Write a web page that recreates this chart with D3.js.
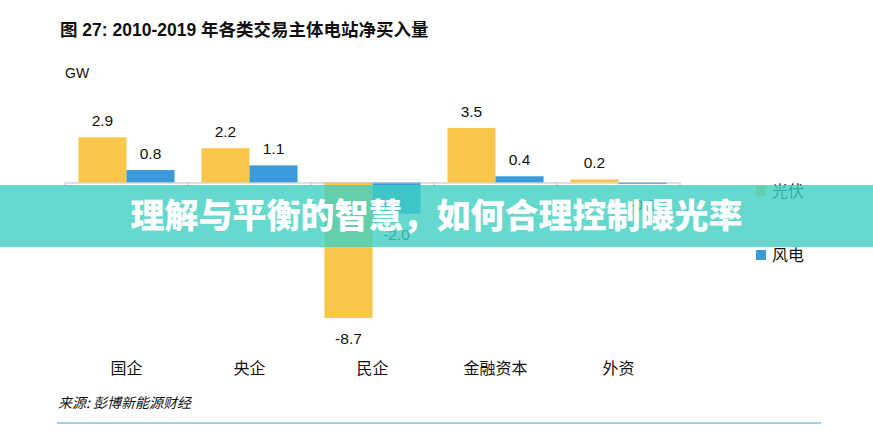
<!DOCTYPE html>
<html lang="zh">
<head>
<meta charset="UTF-8">
<title>各类交易主体电站净买入量</title>
<script src="https://d3js.org/d3.v7.min.js"></script>
<style>
    body { margin: 0; background: #fff; }
    text { font-family: "Liberation Sans", Arial, "Noto Sans CJK SC", sans-serif; }
    .cjk { font-family: "Noto Sans CJK SC", sans-serif; }
</style>
</head>
<body>
<svg id="chart" width="873" height="433"></svg>
<script>
    // data
    var categories = ["国企", "央企", "民企", "金融资本", "外资"];
    var seriesNames = ["光伏", "风电"];
    var solar = [2.9, 2.2, -8.7, 3.5, 0.2];
    var wind = [0.8, 1.1, -2.0, 0.4, -0.1];
    var colors = ["#f9c64a", "#3b9ad9"];

    var svg = d3.select("#chart");

    // title + unit
    svg.append("text")
        .attr("x", 60).attr("y", 36)
        .attr("font-size", 17.5).attr("font-weight", "bold")
        .attr("fill", "#111")
        .text("图 27: 2010-2019 年各类交易主体电站净买入量");

    svg.append("text")
        .attr("x", 65).attr("y", 78)
        .attr("font-size", 14).attr("fill", "#111")
        .text("GW");

    var x0 = d3.scaleBand()
        .domain(categories)
        .range([65, 680])
        .paddingInner(0)
        .paddingOuter(0);

    var x1 = d3.scaleBand()
        .domain(seriesNames)
        .range([0, x0.bandwidth()])
        .paddingInner(0)
        .paddingOuter(0.28);

    var allVals = solar.concat(wind);
    var y = d3.scaleLinear()
        .domain([d3.min(allVals), d3.max(allVals)])
        .range([318, 128]);

    var fmt = function (v) { return d3.format(".1f")(v).replace("\u2212", "-"); };

    var rows = categories.map(function (c, i) {
        return { cat: c, vals: [solar[i], wind[i]] };
    });

    var groups = svg.selectAll("g.cat")
        .data(rows)
        .enter().append("g")
        .attr("class", "cat")
        .attr("transform", function (d) { return "translate(" + x0(d.cat) + ",0)"; });

    var bars = groups.selectAll("g.bar")
        .data(function (d) {
            return d.vals.map(function (v, j) { return { name: seriesNames[j], v: v, j: j }; });
        })
        .enter().append("g")
        .attr("class", "bar");

    bars.append("rect")
        .attr("x", function (d) { return x1(d.name); })
        .attr("y", function (d) { return y(Math.max(0, d.v)); })
        .attr("width", x1.bandwidth())
        .attr("height", function (d) { return Math.abs(y(d.v) - y(0)); })
        .attr("fill", function (d) { return colors[d.j]; });

    bars.append("text")
        .attr("x", function (d) { return x1(d.name) + x1.bandwidth() / 2; })
        .attr("y", function (d) { return d.v >= 0 ? y(d.v) - 11 : y(d.v) + 26; })
        .attr("text-anchor", "middle")
        .attr("font-size", 15.5)
        .attr("fill", "#111")
        .text(function (d) { return fmt(d.v); });

    // zero axis with ticks at category edges
    var axis = d3.axisBottom(x0).tickSize(0).tickFormat("");
    var gAxis = svg.append("g")
        .attr("transform", "translate(0," + y(0) + ")")
        .call(axis);
    gAxis.select(".domain").attr("stroke", "#bfbfbf").attr("stroke-width", 1.2);
    var edges = categories.map(function (c) { return x0(c); }).concat([x0.range()[1]]);
    gAxis.selectAll("line.edge")
        .data(edges)
        .enter().append("line")
        .attr("class", "edge")
        .attr("x1", function (d) { return d; }).attr("x2", function (d) { return d; })
        .attr("y1", 0).attr("y2", 4)
        .attr("stroke", "#bfbfbf");

    // category labels
    svg.selectAll("text.catlab")
        .data(categories)
        .enter().append("text")
        .attr("class", "catlab cjk")
        .attr("x", function (d) { return x0(d) + x0.bandwidth() / 2; })
        .attr("y", 374)
        .attr("text-anchor", "middle")
        .attr("font-size", 16)
        .attr("fill", "#111")
        .text(function (d) { return d; });

    // legend
    var legendY = [191, 255];
    var legend = svg.selectAll("g.legend")
        .data(seriesNames)
        .enter().append("g")
        .attr("class", "legend")
        .attr("transform", function (d, i) { return "translate(756," + legendY[i] + ")"; });
    legend.append("rect")
        .attr("x", 0).attr("y", -5)
        .attr("width", 10).attr("height", 10)
        .attr("fill", function (d, i) { return colors[i]; });
    legend.append("text")
        .attr("class", "cjk")
        .attr("x", 16).attr("y", 6)
        .attr("font-size", 16).attr("fill", "#111")
        .text(function (d) { return d; });

    // source + bottom rule
    svg.append("text")
        .attr("class", "cjk")
        .attr("x", 58).attr("y", 408)
        .attr("font-size", 14).attr("font-style", "italic")
        .attr("fill", "#111")
        .text("来源: 彭博新能源财经");

    svg.append("line")
        .attr("x1", 57).attr("x2", 821)
        .attr("y1", 423).attr("y2", 423)
        .attr("stroke", "#9fd3ea").attr("stroke-width", 2);

    // overlay banner
    svg.append("rect")
        .attr("x", 0).attr("y", 185)
        .attr("width", 873).attr("height", 62)
        .attr("fill", "rgba(64,208,195,0.8)");

    svg.append("text")
        .attr("class", "cjk")
        .attr("x", 436.5).attr("y", 216)
        .attr("dy", "0.36em")
        .attr("text-anchor", "middle")
        .attr("font-size", 34).attr("font-weight", 900)
        .attr("fill", "#fff")
        .text("理解与平衡的智慧，如何合理控制曝光率");
</script>
</body>
</html>
